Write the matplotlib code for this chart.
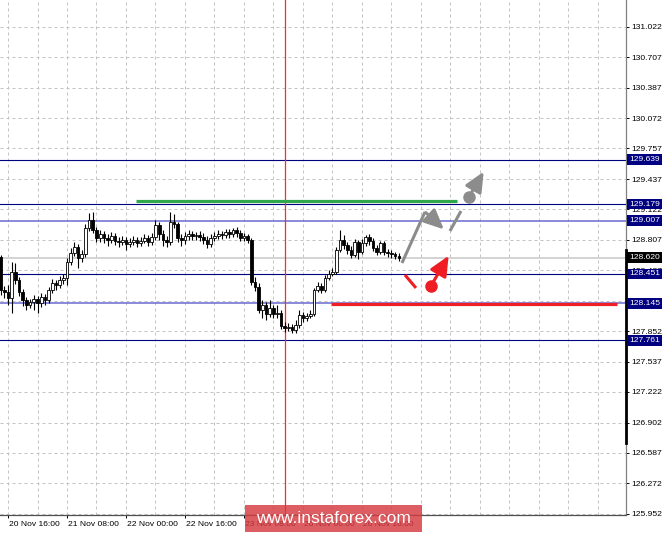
#!/usr/bin/env python3
import matplotlib
matplotlib.use("Agg")
import matplotlib.pyplot as plt
import matplotlib.transforms as mtransforms
from matplotlib.patches import Rectangle, FancyArrowPatch

plt.rcParams['font.family'] = ['Liberation Sans', 'DejaVu Sans']

# hourly candles, EUR/JPY-ish
closes = [128.284, 128.263, 128.201, 128.471, 128.388, 128.263, 128.180, 128.128, 128.159, 128.191,
          128.149, 128.211, 128.180, 128.284, 128.357, 128.336, 128.388, 128.409, 128.575, 128.669,
          128.731, 128.617, 128.659, 128.929, 129.013, 128.908, 128.825, 128.867, 128.825, 128.804,
          128.846, 128.794, 128.784, 128.804, 128.763, 128.784, 128.804, 128.773, 128.794, 128.825,
          128.784, 128.836, 128.961, 128.867, 128.804, 128.784, 128.992, 128.971, 128.825, 128.804,
          128.846, 128.867, 128.846, 128.856, 128.836, 128.804, 128.763, 128.825, 128.846, 128.867,
          128.856, 128.888, 128.867, 128.908, 128.877, 128.825, 128.846, 128.804, 128.367, 128.315,
          128.076, 128.128, 128.034, 128.097, 128.034, 128.045, 127.909, 127.888, 127.899, 127.867,
          127.919, 128.024, 127.993, 128.014, 128.034, 128.284, 128.326, 128.284, 128.409, 128.450,
          128.471, 128.700, 128.804, 128.752, 128.700, 128.648, 128.784, 128.679, 128.773, 128.836,
          128.794, 128.721, 128.679, 128.773, 128.679, 128.669, 128.659, 128.638, 128.617]
first_open = 128.627
highs = [128.648, 128.326, 128.336, 128.575, 128.565, 128.419, 128.295, 128.211, 128.191, 128.232,
         128.222, 128.253, 128.242, 128.315, 128.398, 128.388, 128.430, 128.450, 128.617, 128.721,
         128.784, 128.763, 128.700, 128.971, 129.085, 129.096, 128.940, 128.908, 128.898, 128.867,
         128.888, 128.877, 128.836, 128.846, 128.836, 128.825, 128.846, 128.836, 128.836, 128.867,
         128.856, 128.877, 129.013, 128.992, 128.908, 128.846, 129.096, 129.075, 128.992, 128.867,
         128.888, 128.908, 128.898, 128.888, 128.898, 128.877, 128.846, 128.867, 128.888, 128.908,
         128.898, 128.919, 128.919, 128.929, 128.940, 128.908, 128.877, 128.867, 128.825, 128.419,
         128.357, 128.180, 128.159, 128.180, 128.128, 128.128, 128.076, 127.951, 127.940, 127.930,
         127.971, 128.076, 128.055, 128.045, 128.076, 128.305, 128.367, 128.357, 128.440, 128.492,
         128.513, 128.731, 128.908, 128.856, 128.784, 128.742, 128.815, 128.804, 128.815, 128.856,
         128.867, 128.825, 128.752, 128.794, 128.794, 128.711, 128.700, 128.679, 128.669]
lows = [128.232, 128.201, 128.128, 128.045, 128.346, 128.222, 128.118, 128.076, 128.097, 128.076,
        128.045, 128.107, 128.128, 128.149, 128.253, 128.284, 128.305, 128.346, 128.336, 128.544,
        128.638, 128.513, 128.575, 128.627, 128.898, 128.877, 128.784, 128.784, 128.773, 128.742,
        128.773, 128.752, 128.731, 128.752, 128.700, 128.731, 128.752, 128.731, 128.742, 128.773,
        128.742, 128.752, 128.804, 128.804, 128.742, 128.731, 128.752, 128.929, 128.784, 128.742,
        128.763, 128.804, 128.804, 128.804, 128.794, 128.763, 128.721, 128.731, 128.794, 128.815,
        128.815, 128.825, 128.825, 128.836, 128.836, 128.794, 128.794, 128.773, 128.336, 128.274,
        128.045, 127.993, 127.971, 128.003, 127.993, 127.993, 127.878, 127.847, 127.857, 127.836,
        127.836, 127.888, 127.951, 127.961, 127.993, 128.014, 128.263, 128.253, 128.263, 128.388,
        128.430, 128.450, 128.679, 128.711, 128.659, 128.617, 128.627, 128.607, 128.659, 128.742,
        128.752, 128.690, 128.648, 128.659, 128.648, 128.627, 128.617, 128.607, 128.586]
opens = [first_open] + closes[:-1]

y_ticks = [131.022, 130.707, 130.387, 130.072, 129.757, 129.437, 129.122, 128.807, 128.487,
           128.172, 127.852, 127.537, 127.222, 126.902, 126.587, 126.272, 125.952]
x_tick_bars = [2, 18, 34, 50, 66, 82, 98]
x_tick_labels = ['20 Nov 16:00', '21 Nov 08:00', '22 Nov 00:00', '22 Nov 16:00',
                 '23 Nov 08:00', '26 Nov 00:00', '26 Nov 16:00']

# horizontal levels
levels_dark = [129.639, 129.179, 128.451, 127.761]
levels_light = [129.007, 128.145]
bid = 128.620

green_level = 129.21
green_span = (36.7, 123.8)
red_level = 128.14
red_span = (89.6, 167.2)
day_sep_bar = 77

# scenario arrows (bar, price)
gray_path = [(108.85, 128.565), (115.08, 129.096)]
gray_head = [(115.3, 129.09), (120.2, 128.915)]
gray_dash = [(121.86, 128.898), (124.85, 129.106)]
gray_ball = (127.0, 129.252)
gray_tip = (131.0, 129.515)
red_dash = [(109.66, 128.440), (112.64, 128.305)]
red_ball = (116.7, 128.326)
red_tip = (121.5, 128.640)

fig = plt.figure(figsize=(6.65, 5.34), dpi=100)
ax = fig.add_axes([0, 19 / 534, 626 / 665, 515 / 534])
ax.set_xlim(-0.17, 169.6)
ax.set_ylim(125.941, 131.303)

# grid
for yv in y_ticks:
    ax.axhline(yv, color='#c4c4c4', lw=0.72, dashes=(3, 3), zorder=0)
for b in range(2, 170, 8):
    ax.axvline(b, color='#c4c4c4', lw=0.72, dashes=(3, 3), zorder=0)

# levels
for lv in levels_dark:
    ax.axhline(lv, color='#000080', lw=0.8, zorder=1)
for lv in levels_light:
    ax.axhline(lv, color='#6a6ad0', lw=1.1, zorder=1)
ax.axhline(bid, color='#d0d0d0', lw=1.3, zorder=1)
ax.axvline(day_sep_bar, color='#ff2a2a', lw=0.9, zorder=2)

# candles
w = 0.72
for i in range(len(closes)):
    o, c, h, l = opens[i], closes[i], highs[i], lows[i]
    ax.vlines(i, l, h, color='black', lw=0.8, zorder=3)
    if c >= o:
        ax.bar(i, c - o, bottom=o, width=w, color='white', edgecolor='black', lw=0.6, zorder=4)
    else:
        ax.bar(i, o - c, bottom=c, width=w, color='black', edgecolor='black', lw=0.6, zorder=4)

# support / resistance
ax.plot(green_span, [green_level, green_level], color='#2ea84a', lw=2.3, zorder=5, solid_capstyle='butt')
ax.plot(red_span, [red_level, red_level], color='#ee2026', lw=2.3, zorder=5, solid_capstyle='butt')

gray = '#8c8c8c'
red = '#f01c24'


def arrow(a, b, col):
    ax.add_patch(FancyArrowPatch(a, b, arrowstyle='-|>,head_length=1.2,head_width=0.55',
                                 mutation_scale=10, color=col, lw=2.2, shrinkA=0, shrinkB=0,
                                 zorder=6))


ax.plot(*zip(*gray_path), color=gray, lw=2.2, zorder=6, solid_capstyle='butt')
arrow(gray_head[0], gray_head[1], gray)
ax.plot(*zip(*gray_dash), color=gray, lw=2.2, zorder=6, solid_capstyle='butt')
ax.plot(*gray_ball, 'o', color=gray, ms=8, zorder=6)
arrow(gray_ball, gray_tip, gray)
ax.plot(*zip(*red_dash), color=red, lw=2.2, zorder=6, solid_capstyle='butt')
ax.plot(*red_ball, 'o', color=red, ms=8, zorder=6)
arrow(red_ball, red_tip, red)

# axes styling
for s in ['left', 'top']:
    ax.spines[s].set_visible(False)
ax.spines['right'].set_color('#808080')
ax.spines['right'].set_linewidth(0.9)
ax.spines['bottom'].set_color('#505050')
ax.spines['bottom'].set_linewidth(0.9)
trans = mtransforms.blended_transform_factory(ax.transAxes, ax.transData)
ax.plot([1, 1], [126.691, 128.70], color='black', lw=2, transform=trans, clip_on=False, zorder=7)

ax.yaxis.tick_right()
ax.set_yticks(y_ticks)
ax.set_yticklabels([f'{v:.3f}' for v in y_ticks])
ax.tick_params(axis='y', direction='out', length=2.5, width=0.7, pad=1.5, labelsize=6.1, colors='black')
ax.set_xticks(x_tick_bars)
ax.set_xticklabels(x_tick_labels, ha='left')
ax.tick_params(axis='x', direction='out', length=2.5, width=0.7, pad=1.5, labelsize=6.1)
for lab in ax.get_xticklabels():
    lab.set_transform(lab.get_transform() + mtransforms.ScaledTranslation(1 / 100, 0, fig.dpi_scale_trans))

# price boxes
for lv in levels_dark + levels_light:
    ax.text(1.005, lv, f'{lv:.3f}', transform=trans, va='center', ha='left', fontsize=6.1,
            color='white', clip_on=False, zorder=10,
            bbox=dict(boxstyle='square,pad=0.22', fc='#000080', ec='none'))
ax.text(1.005, bid, f'{bid:.3f}', transform=trans, va='center', ha='left', fontsize=6.1,
        color='white', clip_on=False, zorder=10,
        bbox=dict(boxstyle='square,pad=0.22', fc='black', ec='none'))

# watermark
fig.patches.append(Rectangle((245 / 665, 2 / 534), 177 / 665, 27 / 534, transform=fig.transFigure,
                             fc='#d63a40', alpha=0.82, ec='none', zorder=20))
fig.text(333 / 665, 15.5 / 534, 'www.instaforex.com', color='white', fontsize=12.5,
         ha='center', va='center', zorder=21)

fig.savefig('out.png', dpi=100)
